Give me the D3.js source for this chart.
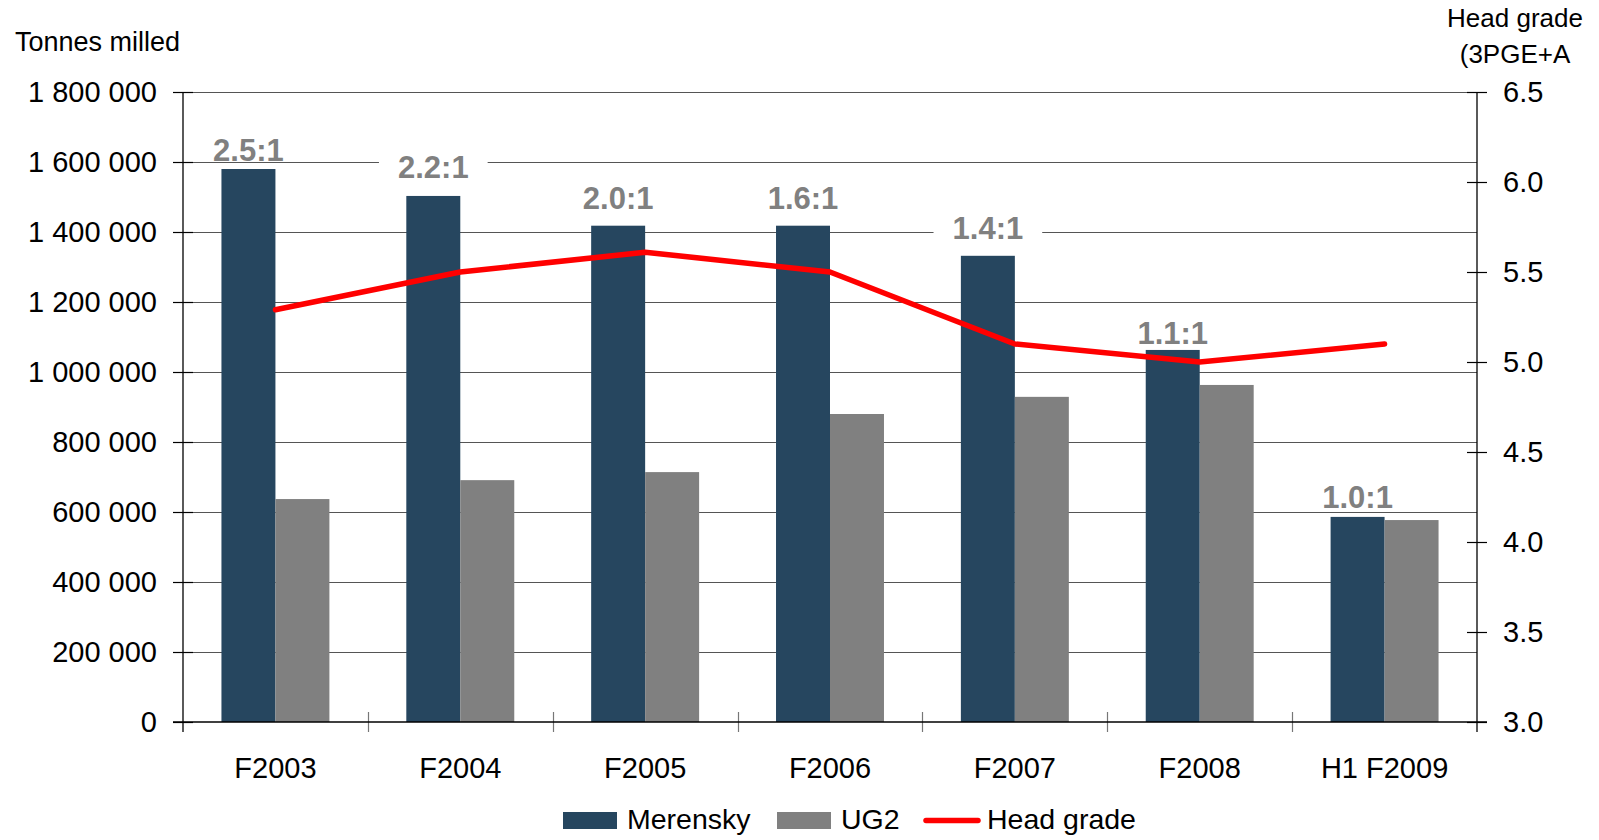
<!DOCTYPE html>
<html>
<head>
<meta charset="utf-8">
<script src="https://cdn.jsdelivr.net/npm/d3@7/dist/d3.min.js"></script>
<style>
  html, body { margin: 0; padding: 0; background: #fff; }
  svg { display: block; font-family: "Liberation Sans", Arial, sans-serif; }
</style>
</head>
<body>
<svg id="chart" width="1599" height="840"></svg>
<script>
// Tonnes milled per period, by reef, with head grade on the right axis
const periods = ["F2003", "F2004", "F2005", "F2006", "F2007", "F2008", "H1 F2009"];
const merensky = [1580000, 1503000, 1418000, 1418000, 1332000, 1063000, 586000];
const ug2 = [637000, 691000, 714000, 880000, 929000, 963000, 577000];
const headGrade = [5.29, 5.5, 5.61, 5.5, 5.1, 5.0, 5.1];
const ratioLabels = ["2.5:1", "2.2:1", "2.0:1", "1.6:1", "1.4:1", "1.1:1", "1.0:1"];
const leftTicks = [0, 200000, 400000, 600000, 800000, 1000000, 1200000, 1400000, 1600000, 1800000];
const rightTicks = [3.0, 3.5, 4.0, 4.5, 5.0, 5.5, 6.0, 6.5];
const seriesNames = ["Merensky", "UG2"];

// layout
const plot = { left: 183, right: 1477, top: 92, bottom: 722 };
const colors = { Merensky: "#26465f", UG2: "#808080", line: "#ff0000" };
const labelLift = [8, 18, 17, 17, 17, 6, 9];
const font = '"Liberation Sans", Arial, sans-serif';

const svg = d3.select("#chart");

const x = d3.scaleBand().domain(periods).range([plot.left, plot.right]).padding(0);
const bw = x.bandwidth();
const xs = d3.scaleBand().domain(seriesNames).range([bw * 0.208, bw * 0.792]).padding(0);
const y = d3.scaleLinear().domain([0, 1800000]).range([plot.bottom, plot.top]);
const y2 = d3.scaleLinear().domain([3.0, 6.5]).range([plot.bottom, plot.top]);

// horizontal gridlines
svg.append("g").selectAll("line")
  .data(leftTicks.filter(d => d > 0))
  .join("line")
  .attr("x1", plot.left).attr("x2", plot.right)
  .attr("y1", d => Math.round(y(d)) + 0.5).attr("y2", d => Math.round(y(d)) + 0.5)
  .attr("stroke", "#555").attr("stroke-width", 1.2);

// bars
const rows = periods.map((p, i) => ({ p, i, Merensky: merensky[i], UG2: ug2[i] }));
const groups = svg.append("g").selectAll("g")
  .data(rows).join("g")
  .attr("transform", d => `translate(${x(d.p)},0)`);
groups.selectAll("rect")
  .data(d => seriesNames.map(s => ({ s, v: d[s] })))
  .join("rect")
  .attr("x", d => xs(d.s))
  .attr("width", xs.bandwidth())
  .attr("y", d => y(d.v))
  .attr("height", d => y(0) - y(d.v))
  .attr("fill", d => colors[d.s]);

// ratio labels above the Merensky bars, on white boxes
const lbl = svg.append("g").selectAll("g")
  .data(rows).join("g")
  .attr("transform", d => `translate(${x(d.p) + xs("Merensky") + xs.bandwidth() / 2},${y(d.Merensky) - labelLift[d.i]})`);
lbl.append("rect").attr("class", "bg").attr("fill", "#fff");
lbl.append("text")
  .attr("text-anchor", "middle")
  .attr("font-family", font)
  .attr("font-size", 31)
  .attr("font-weight", "bold")
  .attr("fill", "#808080")
  .text(d => ratioLabels[d.i]);
lbl.each(function () {
  const g = d3.select(this);
  const w = g.select("text").node().getComputedTextLength();
  g.select("rect")
    .attr("x", -w / 2 - 19).attr("width", w + 38)
    .attr("y", -28).attr("height", 28.4);
});

// head grade line
const line = d3.line()
  .x((d, i) => x(periods[i]) + bw / 2)
  .y(d => y2(d));
svg.append("path")
  .datum(headGrade)
  .attr("d", line)
  .attr("fill", "none")
  .attr("stroke", colors.line)
  .attr("stroke-width", 5.5)
  .attr("stroke-linejoin", "round")
  .attr("stroke-linecap", "round");

// left axis
const fmtTonnes = v => d3.format(",")(v).replace(/,/g, " ");
const gl = svg.append("g")
  .attr("transform", `translate(${plot.left},0)`)
  .call(d3.axisLeft(y).tickValues(leftTicks).tickSize(10).tickSizeOuter(0).tickPadding(16).tickFormat(fmtTonnes));
gl.select(".domain").remove();
gl.selectAll(".tick line").attr("x1", 10).attr("stroke", "#000").attr("stroke-width", 1.2);
gl.selectAll(".tick text").attr("font-family", font).attr("font-size", 29).attr("fill", "#000");

// right axis
const gr = svg.append("g")
  .attr("transform", `translate(${plot.right},0)`)
  .call(d3.axisRight(y2).tickValues(rightTicks).tickSize(10).tickSizeOuter(0).tickPadding(16).tickFormat(d3.format(".1f")));
gr.select(".domain").remove();
gr.selectAll(".tick line").attr("x1", -10).attr("stroke", "#000").attr("stroke-width", 1.2);
gr.selectAll(".tick text").attr("font-family", font).attr("font-size", 29).attr("fill", "#000");

// bottom axis with category labels
const gb = svg.append("g")
  .attr("transform", `translate(0,${plot.bottom})`)
  .call(d3.axisBottom(x).tickSize(0).tickSizeOuter(0));
gb.select(".domain").remove();
gb.selectAll(".tick line").remove();
gb.selectAll(".tick text")
  .attr("y", 56).attr("dy", 0)
  .attr("font-family", font).attr("font-size", 29).attr("fill", "#000");

// category boundary ticks
svg.append("g").selectAll("line")
  .data(periods.slice(1))
  .join("line")
  .attr("x1", d => Math.round(x(d)) + 0.5).attr("x2", d => Math.round(x(d)) + 0.5)
  .attr("y1", plot.bottom - 10).attr("y2", plot.bottom + 10)
  .attr("stroke", "#777").attr("stroke-width", 1.2);

// axis lines
svg.append("line")
  .attr("x1", plot.left).attr("x2", plot.left)
  .attr("y1", plot.top).attr("y2", plot.bottom + 10)
  .attr("stroke", "#000").attr("stroke-width", 1.3);
svg.append("line")
  .attr("x1", plot.right).attr("x2", plot.right)
  .attr("y1", plot.top).attr("y2", plot.bottom + 10)
  .attr("stroke", "#000").attr("stroke-width", 1.3);
svg.append("line")
  .attr("x1", plot.left - 10).attr("x2", plot.right + 10)
  .attr("y1", plot.bottom).attr("y2", plot.bottom)
  .attr("stroke", "#000").attr("stroke-width", 1.3);

// axis titles
svg.append("text")
  .attr("x", 15).attr("y", 51)
  .attr("font-family", font).attr("font-size", 27).attr("fill", "#000")
  .text("Tonnes milled");
svg.append("text")
  .attr("x", 1515).attr("y", 27).attr("text-anchor", "middle")
  .attr("font-family", font).attr("font-size", 26).attr("fill", "#000")
  .text("Head grade");
svg.append("text")
  .attr("x", 1515).attr("y", 63).attr("text-anchor", "middle")
  .attr("font-family", font).attr("font-size", 26).attr("fill", "#000")
  .text("(3PGE+A");

// legend
const legend = svg.append("g").attr("font-family", font).attr("font-size", 28.5);
const legendItems = [
  { name: "Merensky", kind: "rect", color: colors.Merensky, x: 563 },
  { name: "UG2", kind: "rect", color: colors.UG2, x: 777 },
  { name: "Head grade", kind: "line", color: colors.line, x: 923 }
];
legendItems.forEach(it => {
  if (it.kind === "rect") {
    legend.append("rect").attr("x", it.x).attr("y", 812).attr("width", 54).attr("height", 17).attr("fill", it.color);
  } else {
    legend.append("line").attr("x1", it.x + 3).attr("x2", it.x + 55).attr("y1", 820.5).attr("y2", 820.5)
      .attr("stroke", it.color).attr("stroke-width", 5.5).attr("stroke-linecap", "round");
  }
  legend.append("text").attr("x", it.x + 64).attr("y", 829).attr("fill", "#000").text(it.name);
});
</script>
</body>
</html>
